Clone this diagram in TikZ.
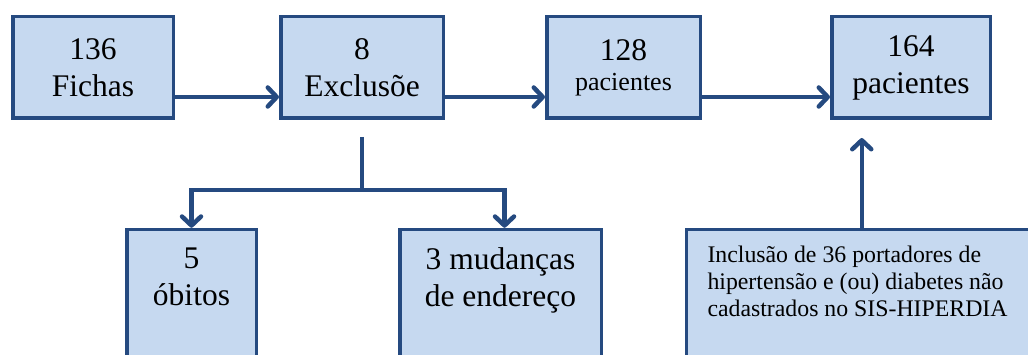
\documentclass[tikz,border=0pt]{standalone}
\usepackage{fontspec}
\setmainfont{Liberation Serif}
\usetikzlibrary{arrows.meta}
\definecolor{boxline}{RGB}{37,74,128}
\definecolor{boxfill}{RGB}{198,217,240}

\begin{document}
\begin{tikzpicture}[x=1pt, y=1pt,
        box/.style={draw=boxline, fill=boxfill, line width=3.5pt,
            minimum height=101.5pt, align=center, inner sep=0pt,
            font=\fontsize{31.5}{37}\selectfont},
        low/.style={box, minimum height=0pt, anchor=north, inner ysep=18pt},
        link/.style={draw=boxline, line width=4.5pt},
        arr/.style={link, -{Straight Barb[length=9pt, width=19pt, round]}}
    ]

    \def\W{1028}
    \def\H{354}
    \useasboundingbox (0,0) rectangle (\W,\H);
    \clip (0,0) rectangle (\W,\H);

    \def\ytop{286.5}
    \def\ylow{126.25}
    \node[box, minimum width=160.5pt] (fichas) at (93,\ytop) {136\\Fichas};
    \node[box, minimum width=162.5pt] (exclusao) at (362,\ytop) {8\\Exclusõe};
    \node[box, minimum width=153.5pt] (pac128) at (623.5,\ytop)
        {128\\[-7pt]{\fontsize{26}{30}\selectfont pacientes}};
    \node[box, minimum width=158.5pt] (pac164) at (911,\ytop) {164\\pacientes};

    \node[low, minimum width=129.5pt] (obitos) at (191.5,\ylow)
        {\parbox[t][124pt][t]{120pt}{\centering 5\\óbitos}};
    \node[low, minimum width=201.5pt] (endereco) at (500.5,\ylow)
        {\parbox[t][124pt][t]{190pt}{\centering 3 mudanças\\de endereço}};
    \node[low, anchor=north west, inner xsep=21pt, inner ysep=16pt,
        font=\fontsize{23.8}{27.4}\selectfont] (inclusao) at (684.75,\ylow)
        {\parbox[t][124pt][t]{330pt}{\raggedright Inclusão de 36 portadores de\\
        hipertensão e (ou) diabetes não\\cadastrados no SIS-HIPERDIA}};

    \draw[arr] ([yshift=23pt]fichas.south east) -- ([yshift=23pt]exclusao.south west);
    \draw[arr] ([yshift=23pt]exclusao.south east) -- ([yshift=23pt]pac128.south west);
    \draw[arr] ([yshift=23pt]pac128.south east) -- ([yshift=23pt]pac164.south west);

    \draw[link] ([yshift=-17pt]exclusao.south) -- ++(0,-53) coordinate (split);
    \draw[arr] (split) -| (obitos.north);
    \draw[arr] (split) -| ([xshift=4pt]endereco.north);

    \coordinate (up) at ([xshift=177pt]inclusao.north west);
    \coordinate (top164) at ([yshift=-18pt]pac164.south);
    \draw[arr] (up) -- (up |- top164);
    \end{tikzpicture}
\end{document}
